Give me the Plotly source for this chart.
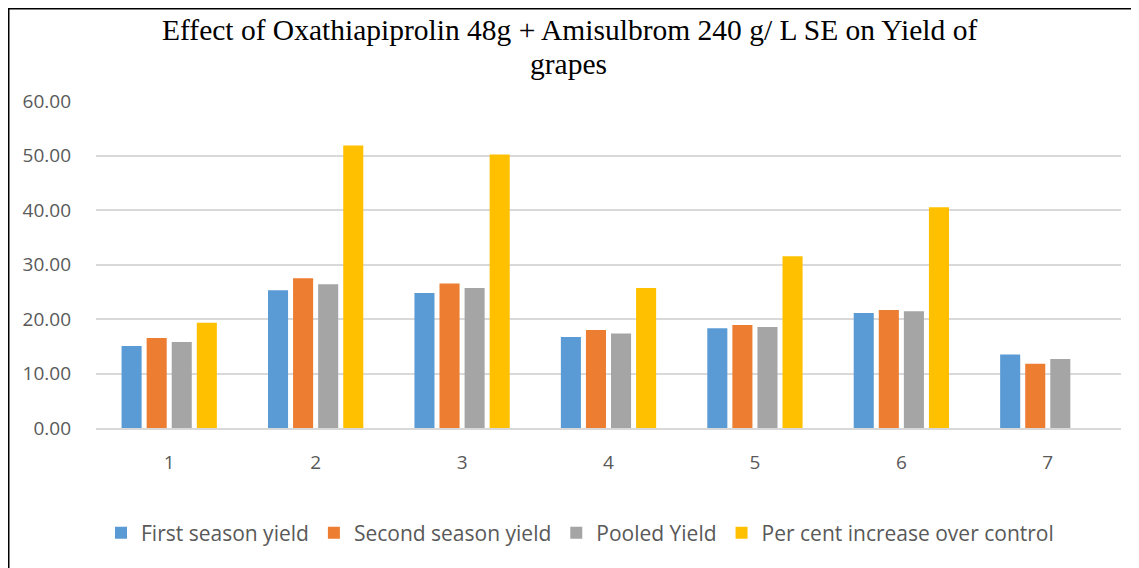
import plotly.graph_objects as go

categories = ["1", "2", "3", "4", "5", "6", "7"]
first_season = [15.03, 25.28, 24.79, 16.69, 18.28, 21.10, 13.50]
second_season = [16.50, 27.48, 26.50, 17.98, 18.90, 21.66, 11.78]
pooled = [15.77, 26.38, 25.70, 17.36, 18.53, 21.41, 12.64]
pct_increase = [19.33, 51.84, 50.18, 25.70, 31.53, 40.49, None]

series = [
    ("First season yield", first_season, "#5B9BD5"),
    ("Second season yield", second_season, "#ED7D31"),
    ("Pooled Yield", pooled, "#A5A5A5"),
    ("Per cent increase over control", pct_increase, "#FFC000"),
]

W, H = 1131, 560
L, R, T, B = 88, 18, 93, 140
PW, PH = W - L - R, H - T - B

fig = go.Figure()
for name, vals, col in series:
    fig.add_trace(go.Bar(x=categories, y=vals, name=name, marker=dict(color=col, line=dict(width=0))))

title_font = dict(family="Liberation Serif", size=29.5, color="black")

fig.update_layout(
    width=W, height=H,
    paper_bgcolor="white", plot_bgcolor="white",
    margin=dict(l=L, r=R, t=T, b=B),
    barmode="group", bargap=0.315, bargroupgap=0.2,
    font=dict(family="Open Sans", color="#595959", size=19),
    legend=dict(orientation="h", x=(572 - L) / PW, xanchor="center",
                y=-(105) / PH, yanchor="middle",
                font=dict(family="Open Sans", size=21, color="#595959"),
                tracegroupgap=0),
    yaxis=dict(range=[0, 60], dtick=10, tickformat=".2f", showgrid=True,
               gridcolor="#D9D9D9", gridwidth=1.5, zeroline=False, showline=False,
               ticklabelstandoff=24, tickfont=dict(family="Open Sans", size=19, color="#595959")),
    xaxis=dict(showline=True, linecolor="#D9D9D9", linewidth=1.5, showgrid=False,
               ticklabelstandoff=16, tickfont=dict(family="Open Sans", size=19, color="#595959")),
    annotations=[
        dict(text="Effect of Oxathiapiprolin 48g + Amisulbrom 240 g/ L SE on Yield of",
             xref="paper", yref="paper", x=(561.5 - L) / PW, y=1 + (T - 22) / PH,
             xanchor="center", yanchor="middle", showarrow=False, font=title_font),
        dict(text="grapes",
             xref="paper", yref="paper", x=(560 - L) / PW, y=1 + (T - 56) / PH,
             xanchor="center", yanchor="middle", showarrow=False, font=title_font),
    ],
    shapes=[dict(type="rect", xref="paper", yref="paper",
                 x0=(0.5 - L) / PW, x1=1 + 40 / PW, y0=-(B + 40) / PH, y1=1 + (T - 0.5) / PH,
                 line=dict(color="black", width=2))],
)

fig.write_html("out.html")
